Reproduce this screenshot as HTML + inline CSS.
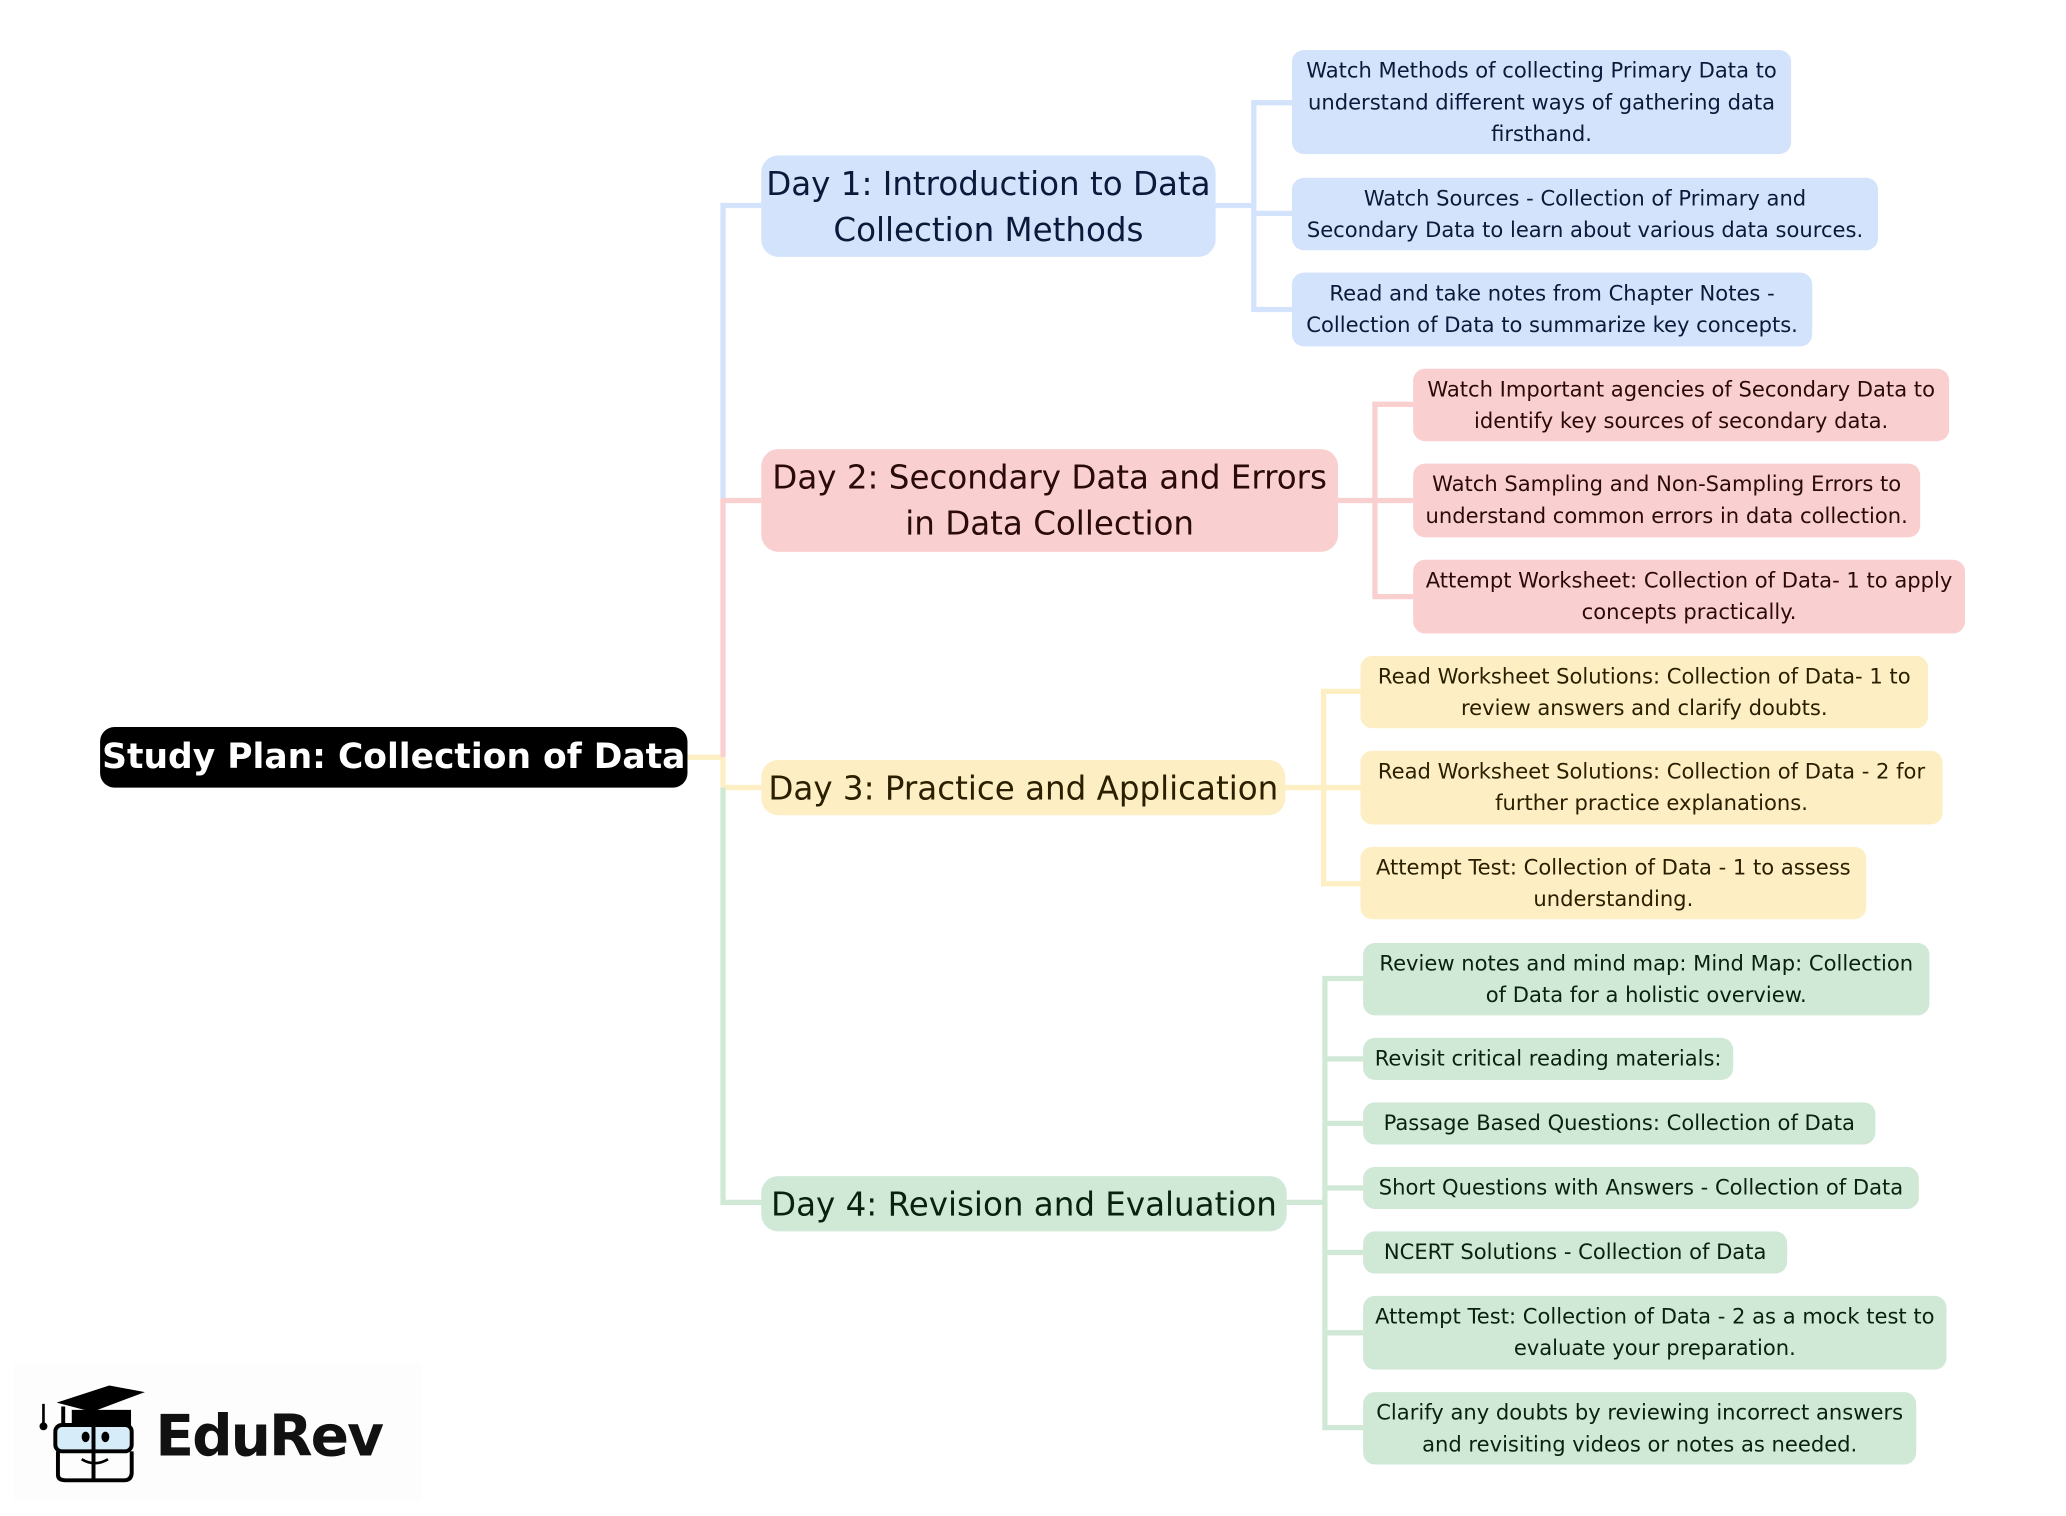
<!DOCTYPE html>
<html><head><meta charset="utf-8"><style>
html,body{margin:0;padding:0;background:#fff;width:2066px;height:1516px;overflow:hidden}
#s{position:absolute;left:0;top:0;width:1570px;height:1150px;transform:scale(1.317);transform-origin:0 0;font-family:"DejaVu Sans","Liberation Sans",sans-serif}
.b{position:absolute;box-sizing:border-box;display:flex;align-items:center;justify-content:center;text-align:center;border-radius:9px;font-size:16px;line-height:24px;white-space:nowrap}
.d{font-size:24.7px;line-height:35px;border-radius:13px}
.bl{background:#d3e3fc;color:#0a1a3a}.pk{background:#f9d0cf;color:#2a0a0a}.ye{background:#fdefc3;color:#2a2000}.gr{background:#d0e8d6;color:#0a2010}
</style></head><body><div id="s">
<svg width="1570" height="1150" style="position:absolute;left:0;top:0" fill="none" stroke-width="4">
<path d="M522 575H549" stroke="#fdefc3"/>
<path d="M578 156H549V380" stroke="#d3e3fc"/>
<path d="M578 380H549V575" stroke="#f9d0cf"/>
<path d="M578 598H549V575" stroke="#fdefc3"/>
<path d="M578 913H549V598" stroke="#d0e8d6"/>
<path d="M923 156H952M981 78H952V235H981M952 162H981" stroke="#d3e3fc"/>
<path d="M1016 380H1044M1073 307H1044V453H1073M1044 380H1073" stroke="#f9d0cf"/>
<path d="M976 598H1005M1033 525H1005V671H1033M1005 598H1033" stroke="#fdefc3"/>
<path d="M977 913H1006M1035 743H1006V1084H1035M1006 804H1035M1006 853H1035M1006 902H1035M1006 951H1035M1006 1012H1035" stroke="#d0e8d6"/>
</svg>
<div class="b" style="left:76px;top:552px;width:446px;height:46px;background:#000;color:#fff;font-weight:bold;font-size:26.2px;border-radius:11px">Study Plan: Collection of Data</div>
<div class="b d bl" style="left:578px;top:118px;width:345px;height:77px">Day 1: Introduction to Data<br>Collection Methods</div>
<div class="b bl" style="left:981px;top:38px;width:379px;height:79px">Watch Methods of collecting Primary Data to<br>understand different ways of gathering data<br>firsthand.</div>
<div class="b bl" style="left:981px;top:135px;width:445px;height:55px">Watch Sources - Collection of Primary and<br>Secondary Data to learn about various data sources.</div>
<div class="b bl" style="left:981px;top:207px;width:395px;height:56px">Read and take notes from Chapter Notes -<br>Collection of Data to summarize key concepts.</div>
<div class="b d pk" style="left:578px;top:341px;width:438px;height:78px">Day 2: Secondary Data and Errors<br>in Data Collection</div>
<div class="b pk" style="left:1073px;top:280px;width:407px;height:55px">Watch Important agencies of Secondary Data to<br>identify key sources of secondary data.</div>
<div class="b pk" style="left:1073px;top:352px;width:385px;height:56px">Watch Sampling and Non-Sampling Errors to<br>understand common errors in data collection.</div>
<div class="b pk" style="left:1073px;top:425px;width:419px;height:56px">Attempt Worksheet: Collection of Data- 1 to apply<br>concepts practically.</div>
<div class="b d ye" style="left:578px;top:577px;width:398px;height:42px">Day 3: Practice and Application</div>
<div class="b ye" style="left:1033px;top:498px;width:431px;height:55px">Read Worksheet Solutions: Collection of Data- 1 to<br>review answers and clarify doubts.</div>
<div class="b ye" style="left:1033px;top:570px;width:442px;height:56px">Read Worksheet Solutions: Collection of Data - 2 for<br>further practice explanations.</div>
<div class="b ye" style="left:1033px;top:643px;width:384px;height:55px">Attempt Test: Collection of Data - 1 to assess<br>understanding.</div>
<div class="b d gr" style="left:578px;top:893px;width:399px;height:42px">Day 4: Revision and Evaluation</div>
<div class="b gr" style="left:1035px;top:716px;width:430px;height:55px">Review notes and mind map: Mind Map: Collection<br>of Data for a holistic overview.</div>
<div class="b gr" style="left:1035px;top:788px;width:281px;height:32px">Revisit critical reading materials:</div>
<div class="b gr" style="left:1035px;top:837px;width:389px;height:32px">Passage Based Questions: Collection of Data</div>
<div class="b gr" style="left:1035px;top:886px;width:422px;height:32px">Short Questions with Answers - Collection of Data</div>
<div class="b gr" style="left:1035px;top:935px;width:322px;height:32px">NCERT Solutions - Collection of Data</div>
<div class="b gr" style="left:1035px;top:984px;width:443px;height:56px">Attempt Test: Collection of Data - 2 as a mock test to<br>evaluate your preparation.</div>
<div class="b gr" style="left:1035px;top:1057px;width:420px;height:55px">Clarify any doubts by reviewing incorrect answers<br>and revisiting videos or notes as needed.</div>
<div style="position:absolute;left:10px;top:1035px;width:310px;height:105px;background:#fdfdfd"></div>
<svg width="90" height="80" style="position:absolute;left:28px;top:1048px" viewBox="0 0 90 80">
<path d="M15 17L55 4L82 9L42 24Z" fill="#000"/>
<path d="M20 20V40M28 24H70V34H28Z" stroke="#000" stroke-width="3" fill="#000"/>
<path d="M5 18V33" stroke="#000" stroke-width="2"/><circle cx="5" cy="35" r="3" fill="#000"/>
<rect x="14" y="34" width="58" height="20" rx="5" fill="#d6ecf8" stroke="#000" stroke-width="3"/>
<path d="M43 30V76M16 54V72Q16 76 22 76H66Q72 76 72 70V54" stroke="#000" stroke-width="3" fill="none"/>
<ellipse cx="37" cy="43" rx="3" ry="4" fill="#000"/><ellipse cx="52" cy="43" rx="3" ry="4" fill="#000"/>
<path d="M34 60Q44 66 54 60" stroke="#000" stroke-width="2" fill="none"/>
</svg>
<div style="position:absolute;left:118px;top:1063px;font-family:'DejaVu Sans',sans-serif;font-weight:bold;font-size:43px;line-height:56px;color:#111;letter-spacing:-1.5px">EduRev</div>
</div></body></html>
